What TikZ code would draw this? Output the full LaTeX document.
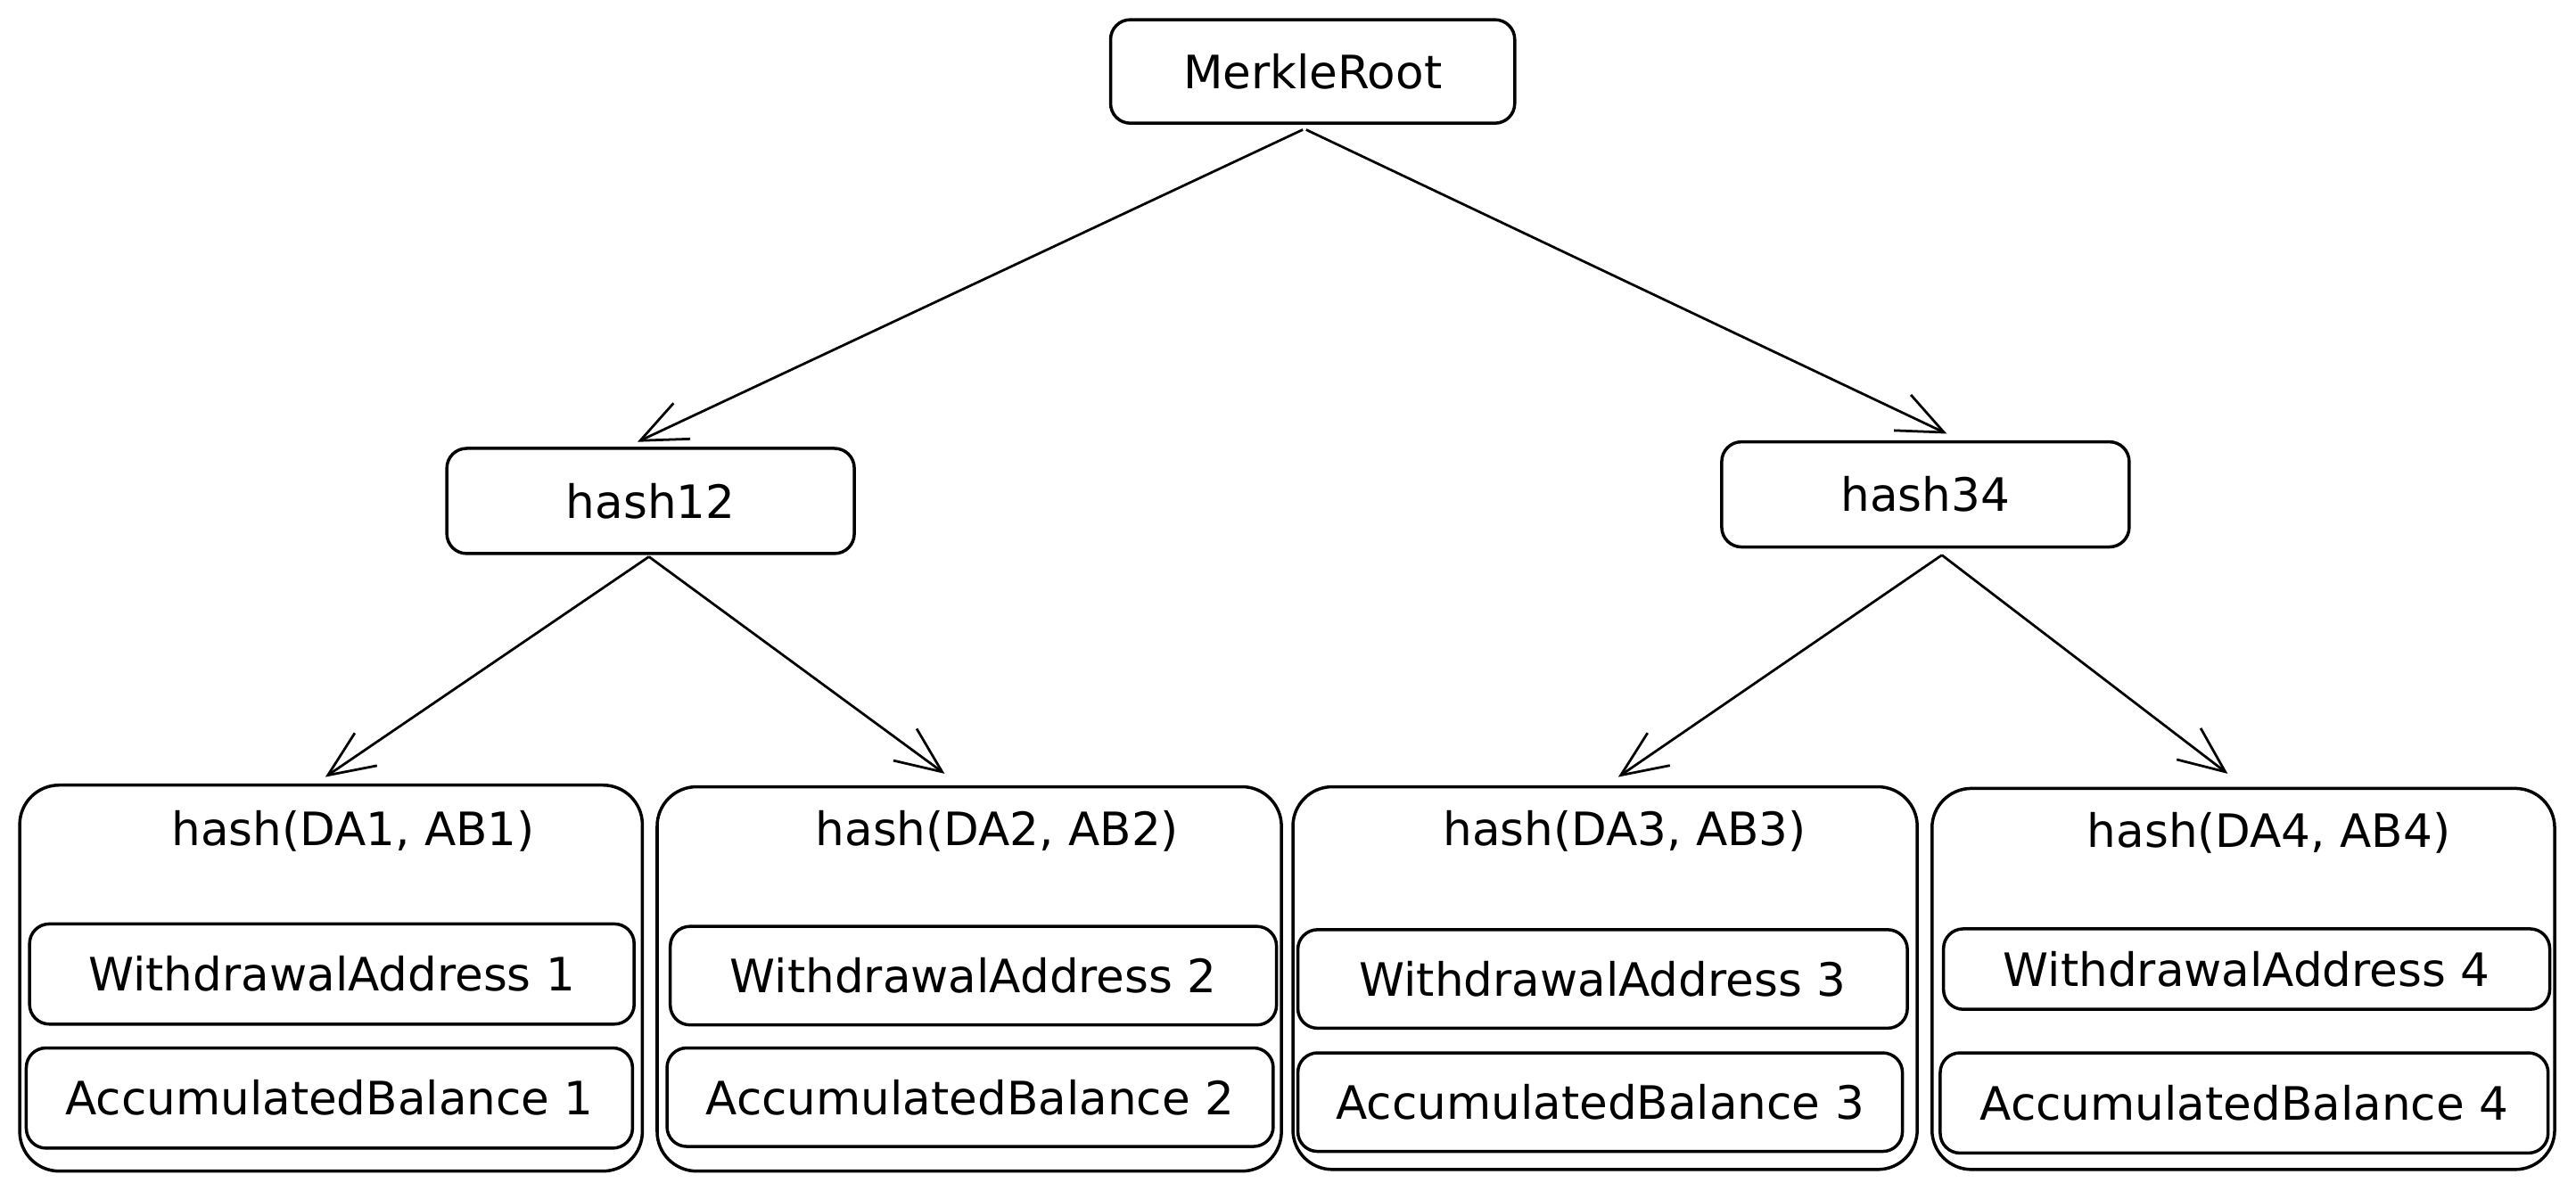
\documentclass[tikz,border=0pt]{standalone}
\usepackage{fontspec}
\setmainfont{DejaVu Sans}
\usetikzlibrary{arrows.meta}
\tikzset{
  box/.style={draw=black, line width=1.9pt, rounded corners=12pt, inner sep=0pt, fill=white},
  leafbox/.style={draw=black, line width=1.9pt, rounded corners=24pt, inner sep=0pt},
  txt/.style={font=\fontsize{28}{32}\selectfont, inner sep=0pt},
  link/.style={draw=black, line width=1.5pt, -{Straight Barb[length=28pt, width=24pt, line width=1.5pt]}}
}
\begin{document}
\begin{tikzpicture}[x=1pt,y=-1pt]
\useasboundingbox (0,0) rectangle (1568,724.6);
% top levels
\node[box, minimum width=246pt, minimum height=63pt, txt] (root) at (799,43.5) {MerkleRoot};
\node[box, minimum width=248pt, minimum height=64pt, txt] (h12) at (396,305) {hash12};
\node[box, minimum width=248pt, minimum height=64pt, txt] (h34) at (1172,301) {hash34};
% leaves outer
\node[leafbox, minimum width=379pt, minimum height=235pt] (L1) at (201.5,595.5) {};
\node[leafbox, minimum width=380pt, minimum height=234pt] (L2) at (590,596) {};
\node[leafbox, minimum width=380pt, minimum height=233pt] (L3) at (977,595.5) {};
\node[leafbox, minimum width=379pt, minimum height=232pt] (L4) at (1365.5,596) {};
% headers
\node[txt] (t1) at (215,506) {hash(DA1, AB1)};
\node[txt] (t2) at (607,506) {hash(DA2, AB2)};
\node[txt] (t3) at (989,506) {hash(DA3, AB3)};
\node[txt] (t4) at (1381,507) {hash(DA4, AB4)};
% inner boxes
\node[box, minimum width=368pt, minimum height=61pt, txt] (W1) at (202,593) {WithdrawalAddress 1};
\node[box, minimum width=369pt, minimum height=60pt, txt] (W2) at (592.5,594) {WithdrawalAddress 2};
\node[box, minimum width=371pt, minimum height=60pt, txt] (W3) at (975.5,596) {WithdrawalAddress 3};
\node[box, minimum width=369pt, minimum height=49pt, txt] (W4) at (1367.5,590) {WithdrawalAddress 4};
\node[box, minimum width=369pt, minimum height=61pt, txt] (A1) at (200.5,668.5) {AccumulatedBalance 1};
\node[box, minimum width=369pt, minimum height=60pt, txt] (A2) at (590.5,668) {AccumulatedBalance 2};
\node[box, minimum width=368pt, minimum height=60pt, txt] (A3) at (974,671) {AccumulatedBalance 3};
\node[box, minimum width=370pt, minimum height=61pt, txt] (A4) at (1366,671.5) {AccumulatedBalance 4};
% connectors
\draw[link] ([xshift=-6pt,yshift=-3pt]root.south) -- ([xshift=-8pt,yshift=3pt]h12.north);
\draw[link] ([xshift=-4pt,yshift=-3pt]root.south) -- ([xshift=13pt,yshift=4pt]h34.north);
\draw[link] ([xshift=-1pt,yshift=-1pt]h12.south) -- ([xshift=-3.5pt,yshift=4pt]L1.north);
\draw[link] ([xshift=-1pt,yshift=-1pt]h12.south) -- ([xshift=-15pt,yshift=7pt]L2.north);
\draw[link] ([xshift=10pt,yshift=-4pt]h34.south) -- ([xshift=8pt,yshift=5pt]L3.north);
\draw[link] ([xshift=10pt,yshift=-4pt]h34.south) -- ([xshift=-9.5pt,yshift=8pt]L4.north);
\end{tikzpicture}
\end{document}
